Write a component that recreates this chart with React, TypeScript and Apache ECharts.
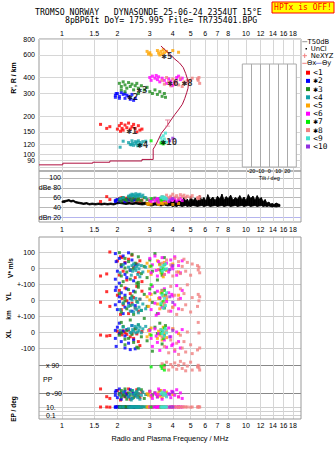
import React, { useEffect, useRef } from 'react';
import * as echarts from 'echarts';

// ---------- axis ticks ----------
const freqTicks = [1, 1.5, 2, 3, 4, 5, 6, 7, 8, 10, 12, 14, 16, 18];
const heightTicks = [80, 90, 100, 120, 150, 200, 300, 400, 600, 800];
const dbTicks = [20, 40, 60, 80, 100];
const dbTickLabels = ['dBn 20', '40', '60', 'dBe 80', '100'];
const tiltTicks = [-20, -10, 0, 10, 20];

// ---------- echoes: [freq MHz, R' km, amp dB, V* m/s, YL km, XL km, PP deg, EP deg] ----------
const echo1 = [
  [1.62, 172, 52, -50, -14, -19, -60, 10], [1.75, 160, 62, -37, 52, -25, -109, 10], [1.82, 165, 56, 100, -40, -22, -120, 9],
  [2.0, 158, 55, 44, 30, 5, -70, 12], [2.05, 168, 58, -44, 60, -10, -95, 10], [2.1, 175, 54, 20, -60, 0, -85, 11],
  [2.12, 160, 60, 65, 10, -18, -100, 9], [2.15, 155, 57, -20, -30, 8, -80, 13], [2.2, 170, 53, 35, 75, -5, -110, 10],
  [2.25, 162, 59, -75, -5, -15, -88, 8], [2.3, 176, 55, 55, -85, 12, -60, 11], [2.35, 158, 61, -10, 40, -30, -125, 10],
  [2.4, 165, 52, 80, -20, -8, -75, 12], [2.45, 172, 58, 5, 15, -40, -95, 9], [2.5, 160, 56, -60, -50, 20, -105, 10],
  [2.55, 150, 54, 25, 85, -12, -65, 11], [2.6, 168, 57, -30, -70, -60, -90, 10], [2.65, 155, 53, 45, 5, -85, -115, 9],
  [2.72, 158, 55, -85, 55, 3, -80, 10], [2.08, 152, 59, 70, -90, -2, -130, 12],
];
const echo2 = [
  [1.95, 290, 54, 90, -30, 10, -80, 10], [1.95, 280, 52, -70, 60, -40, -100, 9], [1.97, 300, 55, 40, 80, -90, -70, 11],
  [2.0, 300, 56, -20, -60, 30, -115, 10], [2.05, 285, 53, 60, 20, -10, -90, 12], [2.05, 275, 57, -95, -10, 55, -60, 10],
  [2.1, 305, 55, 10, 45, -60, -125, 9], [2.15, 295, 58, 75, -85, 5, -85, 10], [2.2, 300, 54, -40, 30, -25, -105, 11],
  [2.2, 275, 52, 30, -45, -100, -75, 10], [2.25, 290, 56, -60, 70, 15, -95, 9], [2.3, 285, 55, 95, -20, -70, -110, 10],
  [2.35, 270, 57, -15, 10, -110, -65, 12], [2.4, 295, 53, 50, -70, 40, -120, 10], [2.45, 265, 55, -80, 55, -50, -88, 9],
  [2.5, 275, 56, 20, -35, -105, -100, 10],
];
const echo3 = [
  [2.05, 360, 55, 96, 40, -20, -90, 10], [2.1, 340, 58, -50, -75, 60, -70, 11], [2.1, 320, 53, 20, 90, -5, -110, 9],
  [2.15, 370, 60, -85, -20, 35, -95, 10], [2.2, 350, 56, 60, 15, -80, -60, 12], [2.25, 330, 54, -25, -55, 10, -125, 10],
  [2.3, 365, 61, 40, 65, -40, -85, 9], [2.35, 340, 57, -70, -35, 75, -100, 10], [2.4, 355, 53, 85, 25, -15, -70, 11],
  [2.45, 320, 59, -5, -90, -65, -115, 10], [2.5, 345, 62, 30, 50, 20, -90, 12], [2.55, 360, 55, -95, -10, -95, -80, 9],
  [2.6, 330, 58, 70, 80, 45, -105, 10], [2.7, 345, 54, -35, -65, -30, -65, 10], [2.8, 320, 60, 10, 35, 85, -120, 11],
  [2.9, 335, 56, -60, -40, -55, -95, 10], [3.0, 310, 53, 50, 70, 15, -75, 9], [3.1, 300, 57, -20, -15, -120, -100, 10],
  [3.2, 320, 59, 90, 45, 30, -85, 12], [3.3, 295, 55, -75, -85, -10, -110, 10], [3.4, 310, 58, 25, 10, 55, -70, 11],
  [3.5, 285, 54, -45, 60, -75, -95, 10], [3.6, 300, 56, 65, -50, -20, 90, 9], [3.65, 280, 53, -10, 30, 40, -90, 10],
  [2.2, 310, 57, 0, -5, -45, -105, 11], [2.6, 300, 55, -90, 95, -100, -60, 10],
];
const echo4 = [
  [2.07, 114, 58, -30, -60, 10, -100, 10], [2.15, 127, 60, 20, -20, 30, -80, 11], [2.3, 124, 63, 5, -40, 20, -110, 10],
  [2.35, 120, 65, -10, -70, -5, -90, 9], [2.4, 128, 67, 15, 0, 40, -120, 10], [2.42, 122, 64, -20, -30, 15, -70, 11],
  [2.45, 118, 66, 25, -75, 5, -95, 10], [2.5, 126, 62, 0, -50, 35, -85, 12], [2.52, 121, 68, -15, 10, -5, -105, 10],
  [2.55, 125, 65, 10, -60, 25, -75, 9], [2.58, 117, 63, -40, -15, 0, -115, 10], [2.6, 128, 66, 20, -80, 45, -90, 11],
  [2.62, 119, 64, -5, -45, 10, -60, 10], [2.65, 124, 67, -55, 5, 30, -125, 10], [2.7, 120, 62, 15, -65, -5, -100, 9],
  [2.75, 126, 65, -25, -25, 20, -80, 11], [2.85, 127, 60, 5, -55, 35, -95, 10], [2.38, 119, 63, -45, 12, -2, -130, 10],
];
const echo5 = [
  [2.9, 640, 48, 30, 20, -30, -90, 10], [2.95, 610, 46, -20, -40, 10, -100, 10], [3.0, 625, 50, 10, 0, -15, -80, 11],
  [3.05, 600, 47, -40, 35, 25, -110, 9], [3.3, 650, 49, 45, -25, -40, -95, 10], [3.35, 620, 46, -10, 10, 5, -85, 10],
  [3.4, 600, 51, 20, -55, -20, -105, 11], [3.45, 640, 48, -30, 45, 15, -70, 10], [3.5, 610, 50, 5, -15, -50, -115, 9],
  [3.55, 660, 47, -55, 25, 30, -90, 10], [3.6, 625, 52, 35, -35, -5, -100, 10], [3.7, 640, 49, -15, 5, -35, -80, 11],
  [4.0, 650, 46, 25, -45, 20, -95, 10], [4.3, 630, 48, -25, 30, -10, -110, 10],
];
const echo6 = [
  [3.0, 400, 55, 60, 40, 10, -75, 10], [3.05, 380, 52, -30, -60, -40, -100, 11], [3.1, 410, 57, 20, 85, -90, -120, 10],
  [3.2, 395, 53, 75, -20, 20, -85, 9], [3.3, 385, 58, -50, 55, -65, -110, 10], [3.35, 405, 51, 40, -85, -10, -60, 12],
  [3.4, 370, 56, -10, 15, -115, -95, 10], [3.5, 395, 59, 65, -45, 5, -125, 10], [3.6, 380, 54, -40, 70, -50, -70, 11],
  [3.7, 360, 57, 30, -10, -95, -105, 10], [3.8, 390, 52, -25, 45, 25, -90, 9], [3.9, 375, 60, 50, -70, -30, -115, 10],
  [4.0, 350, 55, -5, 25, -75, -80, 12], [4.1, 365, 58, 70, -30, -120, -100, 10], [4.2, 400, 53, -45, 90, 0, -65, 10],
  [4.3, 410, 56, 15, -55, -60, -110, 11], [4.4, 385, 59, -30, 10, -100, -85, 10], [4.5, 395, 54, 45, 60, 15, -120, 10],
  [3.25, 415, 57, -15, -95, -25, -95, 9], [3.95, 345, 55, 10, 35, -85, -75, 10],
];
const echo7 = [
  [3.05, 128, 58, 12, 95, -20, 80, 10], [3.5, 125, 56, -30, 40, 5, 70, 9], [3.55, 121, 60, -5, -10, -40, 90, 11],
  [3.6, 124, 57, 20, 60, 25, 60, 10], [3.45, 123, 55, -15, -30, -10, 85, 10],
];
const echo8 = [
  [3.5, 380, 62, 30, 60, -30, 100, 10], [3.6, 355, 58, -40, -20, -90, 75, 11], [3.7, 400, 65, 50, 20, 10, 110, 10],
  [3.8, 370, 60, -10, -70, -130, 60, 9], [3.9, 345, 63, 20, 85, -50, 95, 10], [4.0, 390, 67, -50, -45, 20, 80, 10],
  [4.1, 360, 61, 60, 30, -110, 105, 11], [4.2, 375, 64, -25, -90, -70, 65, 10], [4.3, 350, 59, 40, 5, -140, 90, 9],
  [4.4, 395, 66, -35, 70, -20, 115, 10], [4.5, 340, 62, 10, -60, -100, 70, 10], [4.6, 370, 65, 55, 40, -60, 100, 11],
  [4.7, 360, 60, -20, -30, -125, 55, 10], [4.8, 380, 63, 35, 95, 0, 85, 10], [5.0, 380, 61, -45, -75, -80, 110, 9],
  [5.1, 395, 64, 25, 15, -135, 60, 10], [5.5, 380, 60, -12, 35, 60, 90, 10], [5.55, 400, 58, 5, -5, -6, 75, 11],
  [5.6, 360, 62, -30, 20, -100, 60, 10], [5.45, 390, 59, 15, -40, -112, 80, 10],
];
const echo9 = [
  [3.45, 135, 60, 5, -20, 15, -90, 10], [3.5, 128, 62, -20, 30, -10, -80, 10], [3.55, 140, 58, 15, -50, 5, -100, 9],
  [3.6, 132, 61, -10, 10, -25, -85, 10], [3.65, 147, 59, 25, -35, 20, -95, 11], [3.7, 125, 57, -5, 45, -5, -110, 10],
];
const echo10 = [
  [3.85, 128, 55, -10, 20, -30, -95, 10], [4.0, 134, 58, 15, -15, 10, -80, 10],
];

const groupNames = ['<1', '✱2', '✱3', '<4', '<5', '<6', '✱7', '✱8', '<9', '<10'];
const groupColors = ['#ff0000', '#0000ff', '#1e8c1e', '#10a0a8', '#ffa500', '#ff00ff', '#00ee00', '#f08080', '#40e0d0', '#9030e0'];
const groupEchoes = [echo1, echo2, echo3, echo4, echo5, echo6, echo7, echo8, echo9, echo10];

// ---------- cluster markers: [freq, R', text] ----------
const markers = [
  [2.34, 151, '✱1'], [2.37, 278, '✱2'], [2.66, 313, '✱3'], [2.68, 117, '✱4'], [3.63, 579, '✱5'],
  [3.91, 358, '✱6'], [4.68, 358, '✱8'], [3.6, 123, '✱10'],
];

// ---------- electron density profile: [freq, true height] ----------
const profile = [
  [0.75, 83], [1.01, 83], [1.01, 85.5], [1.47, 85.5], [1.47, 87], [1.82, 87], [1.82, 89], [2.72, 89],
  [2.72, 91.5], [3.13, 91.5], [3.13, 110], [3.2, 116], [3.27, 123], [3.47, 147], [3.7, 165], [3.91, 186],
  [4.1, 205], [4.29, 223], [4.51, 247], [4.65, 275], [4.76, 304], [4.84, 330], [4.86, 354], [4.81, 388],
  [4.7, 430], [4.56, 478], [4.35, 520], [4.11, 556], [3.8, 620], [3.45, 705],
];
const nexyz = [[3.75, 176]];

// ---------- noise band in dB panel ----------
const noiseF = [1.0, 1.03, 1.06, 1.09, 1.12, 1.15, 1.19, 1.23, 1.27, 1.31, 1.36, 1.41, 1.46, 1.52, 1.58, 1.64, 1.7, 1.77, 1.84, 1.91,
  1.98, 2.06, 2.14, 2.23, 2.32, 2.42, 2.52, 2.62, 2.73, 2.84, 2.96, 3.08, 3.2, 3.33, 3.46, 3.6, 3.74, 3.89, 4.0, 4.1,
  4.2, 4.3, 4.4, 4.5, 4.6, 4.7, 4.8, 4.9, 5.0, 5.15, 5.3, 5.45, 5.6, 5.75, 5.9, 6.05, 6.2, 6.4, 6.6, 6.8,
  7.0, 7.2, 7.4, 7.6, 7.8, 8.0, 8.25, 8.5, 8.75, 9.0, 9.25, 9.5, 9.75, 10.0, 10.3, 10.6, 10.9, 11.2, 11.5, 11.8,
  12.1, 12.4, 12.7, 13.0, 13.3, 13.6, 13.9, 14.2, 14.6, 15.0, 15.3];
const noiseLo = [50, 50, 52, 53, 51, 52, 49, 48, 47, 46, 47, 45, 46, 45, 46, 45, 46, 45, 46, 45,
  47, 48, 47, 46, 47, 46, 47, 46, 45, 46, 44, 43, 45, 44, 43, 45, 43, 44, 42, 43,
  42, 44, 43, 42, 43, 44, 42, 43, 42, 44, 43, 42, 43, 44, 42, 43, 44, 42, 43, 44,
  42, 43, 44, 42, 43, 44, 42, 43, 44, 42, 43, 44, 42, 43, 44, 42, 43, 44, 42, 43,
  44, 42, 43, 42, 43, 42, 41, 42, 41, 42, 42];
const noiseHi = [53, 54, 55, 56, 54, 55, 52, 51, 50, 49, 50, 48, 49, 48, 49, 48, 49, 48, 49, 48,
  50, 52, 51, 50, 51, 50, 51, 50, 50, 51, 49, 48, 50, 52, 49, 51, 50, 53, 50, 56,
  51, 58, 52, 55, 60, 53, 57, 51, 62, 54, 59, 52, 64, 55, 60, 53, 66, 56, 61, 54,
  63, 57, 67, 55, 62, 58, 65, 55, 60, 57, 64, 56, 61, 54, 66, 58, 63, 55, 64, 57,
  60, 52, 56, 49, 51, 47, 48, 46, 49, 47, 46];

const lg = Math.log10;
const SANS = '"Liberation Sans", Arial, sans-serif';
const MONO = '"DejaVu Sans Mono", "Liberation Mono", monospace';
const KEYFONT = '"DejaVu Sans", sans-serif';

function freqLabel(v: number) {
  const t = freqTicks.find((x) => Math.abs(lg(x) - v) < 1e-6);
  return t === undefined ? '' : String(t);
}

function freqAxis(gridIndex: number, showLabels: boolean, position: string, margin: number) {
  return {
    type: 'value', gridIndex, position, min: lg(0.75), max: lg(19.9),
    axisLine: { show: false },
    axisTick: { show: false, customValues: freqTicks.map(lg) },
    axisLabel: {
      show: showLabels, customValues: freqTicks.map(lg), formatter: freqLabel,
      fontSize: 7, fontFamily: SANS, color: '#000', margin,
    },
    splitLine: { show: true, lineStyle: { color: '#d6d6d6', width: 1 } },
  };
}

function valueAxis(gridIndex: number, min: number, max: number, ticks: number[], labelTicks: number[],
  fmt: (v: number) => string, extra: any = {}) {
  return {
    type: 'value', gridIndex, min, max,
    axisLine: { show: false },
    axisTick: { show: false, customValues: ticks },
    axisLabel: {
      customValues: labelTicks, formatter: fmt, fontSize: 7, fontFamily: SANS, color: '#000', margin: 4,
      ...(extra.axisLabel || {}),
    },
    splitLine: { show: true, lineStyle: { color: '#d0d0d0', width: 1, ...(extra.lineStyle || {}) } },
    ...(extra.axis || {}),
  };
}

function buildOption() {
  const L = 39, W = 262;
  const grids = [
    { left: L, top: 39, width: W, height: 132, show: true, borderColor: '#999', borderWidth: 1, backgroundColor: 'transparent' },
    { left: L, top: 171, width: W, height: 51, show: true, borderColor: '#999', borderWidth: 1, backgroundColor: 'transparent' },
    { left: L, top: 237, width: W, height: 47 },
    { left: L, top: 284, width: W, height: 32 },
    { left: L, top: 316, width: W, height: 39 },
    { left: L, top: 355, width: W, height: 46 },
    { left: L, top: 401, width: W, height: 18 },
    { left: 242.3, top: 64, width: 54, height: 103, show: true, backgroundColor: '#fff', borderColor: '#aaa', borderWidth: 1, z: 5 },
  ];

  const xAxes: any[] = [
    freqAxis(0, true, 'top', 2),
    freqAxis(1, true, 'bottom', 4),
    freqAxis(2, false, 'bottom', 2),
    freqAxis(3, false, 'bottom', 2),
    freqAxis(4, false, 'bottom', 2),
    freqAxis(5, false, 'bottom', 2),
    freqAxis(6, true, 'bottom', 3),
    {
      type: 'value', gridIndex: 7, min: -30, max: 30, z: 6,
      axisLine: { show: false }, axisTick: { show: false, customValues: tiltTicks },
      axisLabel: { customValues: tiltTicks, fontSize: 5.5, fontFamily: SANS, color: '#000', margin: 1 },
      splitLine: { show: true, lineStyle: { color: '#aaa', width: 1 } },
      name: 'Tilt / deg', nameLocation: 'middle', nameGap: 8,
      nameTextStyle: { fontSize: 5.5, fontFamily: SANS, color: '#000' },
    },
  ];

  const hLabel = (v: number) => {
    const t = heightTicks.find((x) => Math.abs(lg(x) - v) < 1e-6);
    return t === undefined ? '' : String(t);
  };
  const yAxes: any[] = [
    valueAxis(0, lg(74.3), lg(800), heightTicks.map(lg), heightTicks.map(lg), hLabel, { lineStyle: { color: '#d6d6d6' } }),
    valueAxis(1, 10.4, 114.2, dbTicks, dbTicks, (v) => dbTickLabels[dbTicks.indexOf(v)] ?? '', {
      axis: { offset: -23 },
      axisLabel: { margin: 1 },
      lineStyle: { color: ['#b4b4ee', '#b8b8b8', '#b8b8b8', '#b8b8b8', '#b8b8b8'] },
    }),
    valueAxis(2, -100, 193.75, [0, 100], [100, 0], (v) => (v === 100 ? '100' : '0')),
    valueAxis(3, -100, 100, [0, 100], [100, 0], (v) => (v === 100 ? '+-100' : '0')),
    valueAxis(4, -143.75, 100, [-100, 0, 100], [100, 0, -100], (v) => (v === 100 ? '+-100' : v === 0 ? '0' : '-100')),
    valueAxis(5, -136.3, 155.3, [-90, 90], [90, -90], (v) => (v === 90 ? 'x 90' : 'o -90'), {
      axisLabel: { inside: true, margin: 7 }, lineStyle: { color: '#888' },
    }),
    valueAxis(6, -2, 2.5, [-1, 0, 1], [1, -1], (v) => (v === 1 ? '10.' : '0.1'), {
      axisLabel: { inside: true, margin: 7 },
    }),
    { type: 'value', gridIndex: 7, min: 0, max: 1, show: false, z: 6 },
  ];

  const series: any[] = [];

  // noise band drawn as quads between successive (lo, hi) samples
  const noiseData = noiseF.slice(0, -1).map((f, i) => [lg(f), noiseLo[i], noiseHi[i], lg(noiseF[i + 1]), noiseLo[i + 1], noiseHi[i + 1]]);
  series.push({
    type: 'custom', xAxisIndex: 1, yAxisIndex: 1, silent: true, z: 2,
    data: noiseData,
    encode: { x: 0, y: 1 },
    renderItem: (_p: any, api: any) => {
      const a = api.coord([api.value(0), api.value(1)]);
      const b = api.coord([api.value(3), api.value(4)]);
      const c = api.coord([api.value(3), api.value(5)]);
      const d = api.coord([api.value(0), api.value(2)]);
      return {
        type: 'polygon',
        shape: { points: [a, b, c, d] },
        style: { fill: '#000', stroke: '#000', lineWidth: 0.8 },
      };
    },
  });

  const picks = [
    (r: number[]) => [lg(r[0]), lg(r[1])],
    (r: number[]) => [lg(r[0]), r[2]],
    (r: number[]) => [lg(r[0]), r[3]],
    (r: number[]) => [lg(r[0]), r[4]],
    (r: number[]) => [lg(r[0]), r[5]],
    (r: number[]) => [lg(r[0]), r[6]],
    (r: number[]) => [lg(r[0]), lg(r[7])],
  ];
  groupEchoes.forEach((rows, gi) => {
    picks.forEach((pick, ai) => {
      series.push({
        type: 'scatter', name: groupNames[gi], xAxisIndex: ai, yAxisIndex: ai,
        data: rows.map(pick), symbol: 'rect', symbolSize: 3, silent: true, z: 3,
        itemStyle: { color: groupColors[gi] },
      });
    });
  });

  // profile
  series.push({
    type: 'line', xAxisIndex: 0, yAxisIndex: 0, symbol: 'none', silent: true, z: 4,
    data: profile.map(([f, h]) => [lg(f), lg(h)]),
    lineStyle: { color: '#b01040', width: 1 },
  });
  series.push({
    type: 'scatter', xAxisIndex: 0, yAxisIndex: 0, silent: true, z: 4,
    data: nexyz.map(([f, h]) => [lg(f), lg(h)]),
    symbol: 'path://M0,0h5v1h-2v6h2v1h-5v-1h2v-6h-2z', symbolSize: [5, 7],
    itemStyle: { color: '#e06080' },
  });
  series.push({
    type: 'scatter', xAxisIndex: 0, yAxisIndex: 0, silent: true, z: 5,
    data: markers.map(([f, h, t]) => [lg(f as number), lg(h as number), t]),
    symbolSize: 1, itemStyle: { color: 'rgba(0,0,0,0)' },
    label: {
      show: true, formatter: (p: any) => p.data[2], position: [-3, -5], align: 'left', verticalAlign: 'top',
      fontFamily: MONO, fontSize: 9, fontWeight: 'bold', color: '#000',
    },
  });

  // ---------- graphics ----------
  const g: any[] = [];
  g.push({ type: 'text', x: 35, y: 11.6, z: 10, style: { text: 'TROMSO NORWAY   DYNASONDE 25-06-24 2354UT 15°E', fontFamily: MONO, fontSize: 8.2, fill: '#000', verticalAlign: 'middle' } });
  g.push({ type: 'text', x: 65, y: 20.4, z: 10, style: { text: '8pBP6It DoY= 175.995 File= TR735401.BPG', fontFamily: MONO, fontSize: 8.2, fill: '#000', verticalAlign: 'middle' } });
  g.push({ type: 'rect', z: 10, shape: { x: 272, y: 2, width: 62, height: 11 }, style: { fill: '#ffff00', stroke: '#ff0000', lineWidth: 1 } });
  g.push({ type: 'text', x: 303, y: 7.7, z: 11, style: { text: 'HPTx is OFF!', fontFamily: MONO, fontSize: 8, fill: '#ff0000', align: 'center', verticalAlign: 'middle' } });

  // lower frame
  g.push({ type: 'rect', z: 10, shape: { x: 39, y: 237, width: 262, height: 182 }, style: { fill: 'none', stroke: '#999', lineWidth: 1 } });

  // axis titles
  const rot = (t: string, x: number, y: number, size = 7) => ({
    type: 'text', x, y, rotation: Math.PI / 2, z: 10,
    style: { text: t, fontFamily: SANS, fontSize: size, fontWeight: 'bold', fill: '#000', align: 'center', verticalAlign: 'middle' },
  });
  g.push(rot("R', R / km", 13.5, 78));
  g.push(rot('V* m/s', 10, 268, 6.5));
  g.push(rot('YL', 8, 296.5));
  g.push(rot('km', 8, 315, 6.5));
  g.push(rot('XL', 8, 334));
  g.push(rot('EP / deg', 13, 409, 6.5));
  g.push({ type: 'text', x: 43, y: 379, z: 10, style: { text: 'PP', fontFamily: SANS, fontSize: 7, fill: '#000', verticalAlign: 'middle' } });
  g.push({ type: 'text', x: 170, y: 438, z: 10, style: { text: 'Radio and Plasma Frequency / MHz', fontFamily: SANS, fontSize: 7.3, fill: '#000', align: 'center', verticalAlign: 'middle' } });

  // right-side key
  const keyText = (t: string, x: number, y: number, size = 6.8) => ({
    type: 'text', x, y, z: 10, style: { text: t, fontFamily: KEYFONT, fontSize: size, fill: '#000', verticalAlign: 'middle' },
  });
  g.push({ type: 'line', z: 10, shape: { x1: 302.3, y1: 41.7, x2: 307.3, y2: 41.7 }, style: { stroke: '#999', lineWidth: 1 } });
  g.push(keyText('T50dB', 307.5, 41.7));
  g.push({ type: 'rect', z: 10, shape: { x: 305.5, y: 48, width: 1.5, height: 1.5 }, style: { fill: '#000' } });
  g.push(keyText('UnCl', 310.7, 48.7));
  g.push({ type: 'line', z: 10, shape: { x1: 302.5, y1: 55.7, x2: 307, y2: 55.7 }, style: { stroke: '#f08080', lineWidth: 1 } });
  g.push({ type: 'line', z: 10, shape: { x1: 304.7, y1: 53.5, x2: 304.7, y2: 58 }, style: { stroke: '#f08080', lineWidth: 1 } });
  g.push(keyText('NeXYZ', 310.7, 55.7));
  g.push({ type: 'line', z: 10, shape: { x1: 302.3, y1: 63.3, x2: 306.7, y2: 63.3 }, style: { stroke: '#f08080', lineWidth: 1 } });
  g.push(keyText('Θx', 306.9, 63.3));
  g.push({ type: 'line', z: 10, shape: { x1: 315.7, y1: 63.3, x2: 321.7, y2: 63.3 }, style: { stroke: '#8080e0', lineWidth: 1 } });
  g.push(keyText('Θy', 321.9, 63.3));
  groupNames.forEach((n, i) => {
    const y = 72.7 + i * 8.2;
    g.push({ type: 'rect', z: 10, shape: { x: 306, y: y - 2, width: 4, height: 4 }, style: { fill: groupColors[i] } });
    g.push({ type: 'text', x: 313.3, y, z: 10, style: { text: n, fontFamily: MONO, fontSize: 7.8, fill: '#000', verticalAlign: 'middle' } });
  });

  return {
    animation: false,
    backgroundColor: '#fff',
    grid: grids,
    xAxis: xAxes,
    yAxis: yAxes,
    series,
    graphic: g,
  };
}

export default function App() {
  const ref = useRef<HTMLDivElement>(null);
  useEffect(() => {
    const chart = echarts.init(ref.current as HTMLDivElement, null, { renderer: 'svg' });
    chart.setOption(buildOption() as any);
    return () => chart.dispose();
  }, []);
  return (
    <div
      ref={ref}
      style={{ position: 'fixed', left: 0, top: 0, width: 335, height: 451, background: '#fff' }}
    />
  );
}
